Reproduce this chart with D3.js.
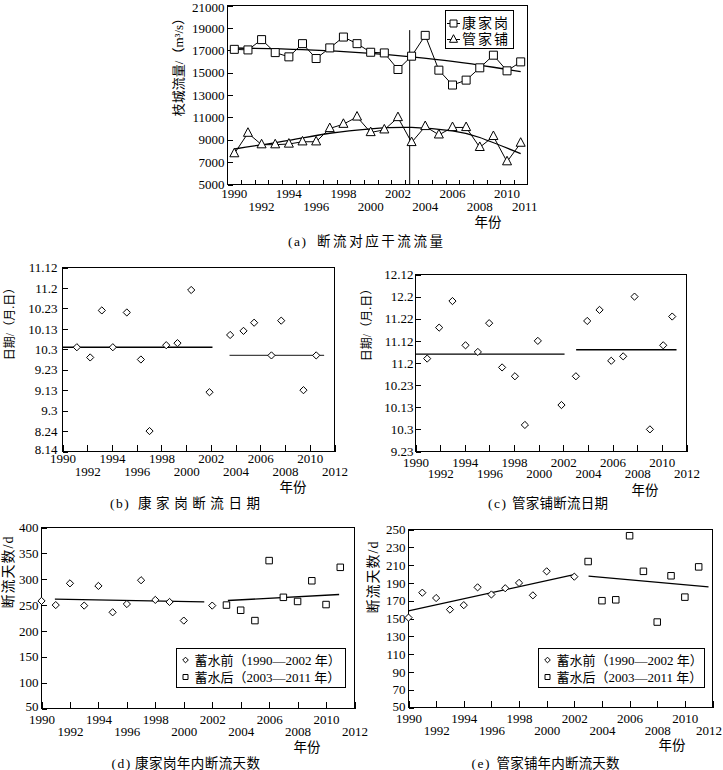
<!DOCTYPE html>
<html><head><meta charset="utf-8">
<script src="https://cdn.jsdelivr.net/npm/d3@7"></script>
<style>
body{margin:0;background:#fff}
svg{display:block}
text{font-family:"Liberation Serif","Noto Sans CJK SC",serif;fill:#000}
</style></head><body>
<svg id="c" width="723" height="770"></svg>
<script>
// ---------- DATA ----------
// (a) flow at Zhicheng on cut-off days
const yearsA = [1990,1991,1992,1993,1994,1995,1996,1997,1998,1999,2000,2001,2002,2003,2004,2005,2006,2007,2008,2009,2010,2011];
const flowKJG = [17080,17030,17950,16790,16410,17590,16260,17210,18180,17590,16820,16760,15280,16470,18330,15220,13890,14330,15430,16560,15160,15960];
const flowGJP = [7760,9590,8560,8560,8620,8820,8820,10010,10390,11040,9650,9890,10990,8760,10190,9440,10100,10100,8320,9300,7040,8700];
const trendKJGYears = [1990,1995,2000,2003,2006,2009,2011];
const trendKJG = [17200,17060,16720,16400,16000,15480,15080];
const trendGJPYears = [1990,1994,1997,2000,2003,2006,2008,2011];
const trendGJP = [8170,8950,9580,9980,10100,9800,9200,7760];
const damYearA = 2002.86;
const damTopA = 18800;
const flowTicks = [5000,7000,9000,11000,13000,15000,17000,19000,21000];
const xLabelsA = [1990,1992,1994,1996,1998,2000,2002,2004,2006,2008,2010,2011];
const seriesNamesA = ["康家岗","管家铺"];

// (b) Kangjiagang cut-off date
const cutKJGYears = [1991.16,1992.24,1993.18,1994.07,1995.20,1996.34,1997.04,1998.39,1999.30,2000.41,2001.89,2003.56,2004.64,2005.50,2006.90,2007.69,2009.49,2010.52];
const cutKJGDates = ["10.4","9.29","10.22","10.4","10.21","9.28","8.24","10.5","10.6","11.1","9.12","10.10","10.12","10.16","9.30","10.17","9.13","9.30"];
const meanKJGPre = {from:1990, to:2002.13, date:"10.4"};
const meanKJGPost = {from:2003.51, to:2011.16, date:"9.30"};
const dateTicksB = ["8.14","8.24","9.3","9.13","9.23","10.3","10.13","10.23","11.2","11.12"];

// (c) Guanjiapu cut-off date
const cutGJPYears = [1990.95,1991.92,1993.00,1994.06,1995.06,1995.98,1997.03,1998.07,1998.88,1999.93,2001.85,2003.02,2003.94,2004.94,2005.89,2006.86,2007.78,2009.03,2010.11,2010.84];
const cutGJPDates = ["11.4","11.18","11.30","11.10","11.7","11.20","10.31","10.27","10.5","11.12","10.14","10.27","11.21","11.26","11.3","11.5","12.2","10.3","11.10","11.23"];
const meanGJPPre = {from:1990, to:2002.1, date:"11.6"};
const meanGJPPost = {from:2003.04, to:2011.19, date:"11.8"};
const dateTicksC = ["9.23","10.3","10.13","10.23","11.2","11.12","11.22","12.2","12.12"];

// (d)(e) number of cut-off days
const yearsPre = [1990,1991,1992,1993,1994,1995,1996,1997,1998,1999,2000,2002];
const yearsPost = [2003,2004,2005,2006,2007,2008,2009,2010,2011];
const daysKJGPre = [258,250,292,249,287,236,252,298,260,256,220,249];
const daysKJGPost = [250,240,220,336,265,257,297,251,323];
const daysGJPPre = [151,179,173,160,165,185,177,184,190,176,203,197];
const daysGJPPost = [214,170,171,243,203,146,198,174,208];
const trendKJGPre = [[1990.94,261.4],[2001.44,256.3]];
const trendKJGPost = [[2003.1,258.8],[2010.92,270.4]];
const trendGJPPre = [[1990,158.5],[2002.06,199.6]];
const trendGJPPost = [[2003.03,197.7],[2011.71,185.5]];
const daysTicksD = [50,100,150,200,250,300,350,400];
const daysTicksE = [50,70,90,110,130,150,170,190,210,230,250];
const yearTicks = [1990,1992,1994,1996,1998,2000,2002,2004,2006,2008,2010,2012];
const legendLabels = ["蓄水前（1990—2002 年）","蓄水后（2003—2011 年）"];

// ---------- HELPERS ----------
const svg = d3.select("#c");
const parseMD = s => { const [m,d] = s.split(".").map(Number); return new Date(Date.UTC(2001, m-1, d)); };
const fmtMD = d3.utcFormat("%-m.%-d");

function frame(g, P){
  g.append("rect").attr("x",P.l).attr("y",P.t).attr("width",P.r-P.l).attr("height",P.b-P.t)
    .attr("fill","none").attr("stroke","#000").attr("stroke-width",1).attr("shape-rendering","crispEdges");
}
function text(g, x, y, s, o={}){
  const t = g.append("text").attr("x",x).attr("y",y).attr("dy","0.35em")
    .attr("text-anchor", o.anchor||"middle").attr("font-size", o.size||13).text(s);
  if(o.len) t.attr("textLength",o.len).attr("lengthAdjust","spacing");
  if(o.ls) t.attr("letter-spacing",o.ls);
  if(o.rot) t.attr("transform",`rotate(-90,${x},${y})`);
  return t;
}
function caption(g, x0, x1, len, y, tag, s){
  text(g, x0, y, tag, {anchor:"start", size:13.5, ls:1.5});
  text(g, x1, y, s, {anchor:"start", size:13.5, len:len});
}
function yAxis(g, P, y, ticks, fmt, pad, o={}){
  const ax = g.append("g").attr("transform",`translate(${P.l},0)`)
    .call(d3.axisLeft(y).tickValues(ticks).tickSize(-5).tickPadding(pad).tickFormat(fmt));
  ax.select(".domain").remove();
  ax.attr("font-size",13);
  ax.selectAll(".tick line").attr("shape-rendering","crispEdges");
  const n = ticks.length;
  ax.selectAll(".tick text").attr("y",(d,i)=> i===0 ? -(o.lowUp||0) : (i===n-1 ? (o.topDown||0) : 0));
  return ax;
}
function xAxisYears(g, P, x, off1, off2, lastDx){
  const ax = g.append("g").attr("transform",`translate(0,${P.b})`)
    .call(d3.axisBottom(x).tickValues(yearTicks).tickSize(-7).tickFormat(d3.format("d")));
  ax.select(".domain").remove();
  ax.attr("font-size",13);
  ax.selectAll(".tick line").attr("shape-rendering","crispEdges");
  ax.selectAll(".tick text").attr("y",(d,i)=> i%2 ? off2 : off1).attr("dy","0.35em")
    .attr("dx",(d,i)=> i===yearTicks.length-1 ? (lastDx||0) : 0);
}
const diamond = r => `M0,${-r}L${r},0L0,${r}L${-r},0Z`;
const square = s => `M${-s/2},${-s/2}h${s}v${s}h${-s}Z`;
const triangle = w => `M0,${-w*0.6}L${w/2},${w*0.35}L${-w/2},${w*0.35}Z`;
function marks(g, pts, path){
  g.append("g").selectAll("path").data(pts).join("path")
    .attr("transform",d=>`translate(${d[0]},${d[1]})`).attr("d",path)
    .attr("fill","#fff").attr("stroke","#000").attr("stroke-width",1);
}
function seg(g, pts, color, w){
  g.append("path").attr("d",d3.line()(pts)).attr("fill","none").attr("stroke",color||"#000").attr("stroke-width",w||1.2);
}

// ---------- PANEL (a) ----------
{
  const P = {l:227.5, r:527.5, t:5.5, b:184.5};
  const g = svg.append("g");
  const x = d3.scaleLinear().domain([yearsA[0]-0.5, yearsA[yearsA.length-1]+0.5]).range([P.l,P.r]);
  const xb = d3.scaleBand().domain(yearsA).range([P.l,P.r]);
  const y = d3.scaleLinear().domain([flowTicks[0], flowTicks[flowTicks.length-1]]).range([P.b,P.t]);
  yAxis(g,P,y,flowTicks,d3.format("d"),3,{topDown:1.5});
  const tk = g.append("g").attr("transform",`translate(0,${P.b})`)
    .call(d3.axisBottom(x).tickValues(yearsA.slice(1).map(v=>v-0.5)).tickSize(-5).tickFormat(""));
  tk.select(".domain").remove();
  tk.selectAll(".tick line").attr("shape-rendering","crispEdges");
  const lb = g.append("g").attr("transform",`translate(0,${P.b})`)
    .call(d3.axisBottom(xb).tickValues(xLabelsA).tickSize(0));
  lb.select(".domain").remove();
  lb.attr("font-size",13);
  lb.selectAll(".tick text").attr("y",(d,i)=> i%2 ? 22 : 9).attr("dy","0.35em")
    .attr("dx", d => d===2011 ? 4 : 0);
  frame(g,P);
  // dam divider
  g.append("line").attr("x1",x(damYearA)).attr("x2",x(damYearA)).attr("y1",y(damTopA)).attr("y2",P.b)
    .attr("stroke","#000").attr("stroke-width",1);
  const line = d3.line();
  const pK = yearsA.map((v,i)=>[x(v), y(flowKJG[i])]);
  const pG = yearsA.map((v,i)=>[x(v), y(flowGJP[i])]);
  g.append("path").attr("d",line(pK)).attr("fill","none").attr("stroke","#000").attr("stroke-width",1);
  g.append("path").attr("d",line(pG)).attr("fill","none").attr("stroke","#000").attr("stroke-width",1);
  const curve = d3.line().curve(d3.curveNatural);
  g.append("path").attr("d",curve(trendKJGYears.map((v,i)=>[x(v),y(trendKJG[i])]))).attr("fill","none").attr("stroke","#000").attr("stroke-width",1.3);
  g.append("path").attr("d",curve(trendGJPYears.map((v,i)=>[x(v),y(trendGJP[i])]))).attr("fill","none").attr("stroke","#000").attr("stroke-width",1.3);
  marks(g,pK,square(8));
  marks(g,pG,triangle(9));
  // legend
  const L = g.append("g");
  L.append("rect").attr("x",445.5).attr("y",10.5).attr("width",68).attr("height",38)
    .attr("fill","#fff").attr("stroke","#000").attr("shape-rendering","crispEdges");
  [23.5,39.5].forEach((yy,i)=>{
    L.append("line").attr("x1",447).attr("x2",460).attr("y1",yy).attr("y2",yy).attr("stroke","#000");
    marks(L,[[453.5,yy]], i===0 ? square(7) : triangle(8));
    text(L,462,yy,seriesNamesA[i],{anchor:"start",size:14,ls:2});
  });
  text(g,178,64,"枝城流量/（m³/s）",{rot:true,size:13});
  text(g,488,222,"年份",{size:13.5});
  caption(g,288,317,126,241,"(a)","断流对应干流流量");
}

// ---------- PANELS (b)(c) ----------
function datePanel(P, xs, ds, mPre, mPost, ticks, o){
  const g = svg.append("g");
  const x = d3.scaleLinear().domain([yearTicks[0], yearTicks[yearTicks.length-1]]).range([P.l,P.r]);
  const tv = ticks.map(parseMD);
  const y = d3.scaleUtc().domain([tv[0], tv[tv.length-1]]).range([P.b,P.t]);
  yAxis(g,P,y,tv,fmtMD,o.pad,{lowUp:o.lowUp||0});
  xAxisYears(g,P,x,o.r1,o.r2,0);
  frame(g,P);
  seg(g,[[x(mPre.from),y(parseMD(mPre.date))],[x(mPre.to),y(parseMD(mPre.date))]],"#000",1.4);
  seg(g,[[x(mPost.from),y(parseMD(mPost.date))],[x(mPost.to),y(parseMD(mPost.date))]],o.postColor,1.4);
  marks(g, xs.map((v,i)=>[x(v), y(parseMD(ds[i]))]), diamond(3.6));
  text(g,o.ytx,o.yty,"日期/（月.日）",{rot:true,size:12});
  text(g,o.nx,o.ny,"年份",{size:13.5});
  caption(g,o.c0,o.c1,o.clen,503,o.tag,o.cap);
}
datePanel({l:62.5,r:334.5,t:267.5,b:451.5}, cutKJGYears, cutKJGDates, meanKJGPre, meanKJGPost, dateTicksB,
  {pad:5, r1:7, r2:20, lowUp:2.5, postColor:"#444", ytx:10, yty:321, nx:293, ny:487,
   c0:110, c1:138, clen:122, tag:"(b)", cap:"康家岗断流日期"});
datePanel({l:415.5,r:686.5,t:274.5,b:451.5}, cutGJPYears, cutGJPDates, meanGJPPre, meanGJPPost, dateTicksC,
  {pad:2, r1:10.5, r2:22, lowUp:0, postColor:"#000", ytx:367, yty:322, nx:645, ny:490,
   c0:488, c1:512, clen:96, tag:"(c)", cap:"管家铺断流日期"});

// ---------- PANELS (d)(e) ----------
function daysPanel(P, pre, post, tPre, tPost, ticks, o){
  const g = svg.append("g");
  const x = d3.scaleLinear().domain([yearTicks[0], yearTicks[yearTicks.length-1]]).range([P.l,P.r]);
  const y = d3.scaleLinear().domain([ticks[0], ticks[ticks.length-1]]).range([P.b,P.t]);
  yAxis(g,P,y,ticks,d3.format("d"),3,{lowUp:o.lowUp||0});
  xAxisYears(g,P,x,11,23,o.lastDx);
  frame(g,P);
  seg(g,tPre.map(d=>[x(d[0]),y(d[1])]),"#000",1.3);
  seg(g,tPost.map(d=>[x(d[0]),y(d[1])]),"#000",1.3);
  marks(g, yearsPre.map((v,i)=>[x(v),y(pre[i])]), diamond(3.6));
  marks(g, yearsPost.map((v,i)=>[x(v),y(post[i])]), square(6.5));
  // legend
  const L = g.append("g");
  L.append("rect").attr("x",o.lx).attr("y",648.5).attr("width",o.lw).attr("height",39)
    .attr("fill","#fff").attr("stroke","#000").attr("shape-rendering","crispEdges");
  [660,677].forEach((yy,i)=>{
    marks(L,[[o.lx+9,yy]], i===0 ? diamond(2.8) : square(5));
    text(L,o.lx+18,yy,legendLabels[i],{anchor:"start",size:13});
  });
  text(g,o.ytx,o.yty,"断流天数/d",{rot:true,size:14,ls:1});
  text(g,o.nx,o.ny,"年份",{size:13.5});
  caption(g,o.c0,o.c1,o.clen,763,o.tag,o.cap);
}
daysPanel({l:41.5,r:354.5,t:527.5,b:708.5}, daysKJGPre, daysKJGPost, trendKJGPre, trendKJGPost, daysTicksD,
  {lx:176.5, lw:169, ytx:8, yty:572, nx:307, ny:747, lowUp:2, lastDx:0,
   c0:111.5, c1:135, clen:125, tag:"(d)", cap:"康家岗年内断流天数"});
daysPanel({l:408.5,r:712.5,t:529.5,b:707.5}, daysGJPPre, daysGJPPost, trendGJPPre, trendGJPPost, daysTicksE,
  {lx:538.5, lw:166, ytx:373, yty:577, nx:672, ny:745, lowUp:1, lastDx:-4,
   c0:471.5, c1:496.5, clen:123, tag:"(e)", cap:"管家铺年内断流天数"});
</script>
</body></html>
